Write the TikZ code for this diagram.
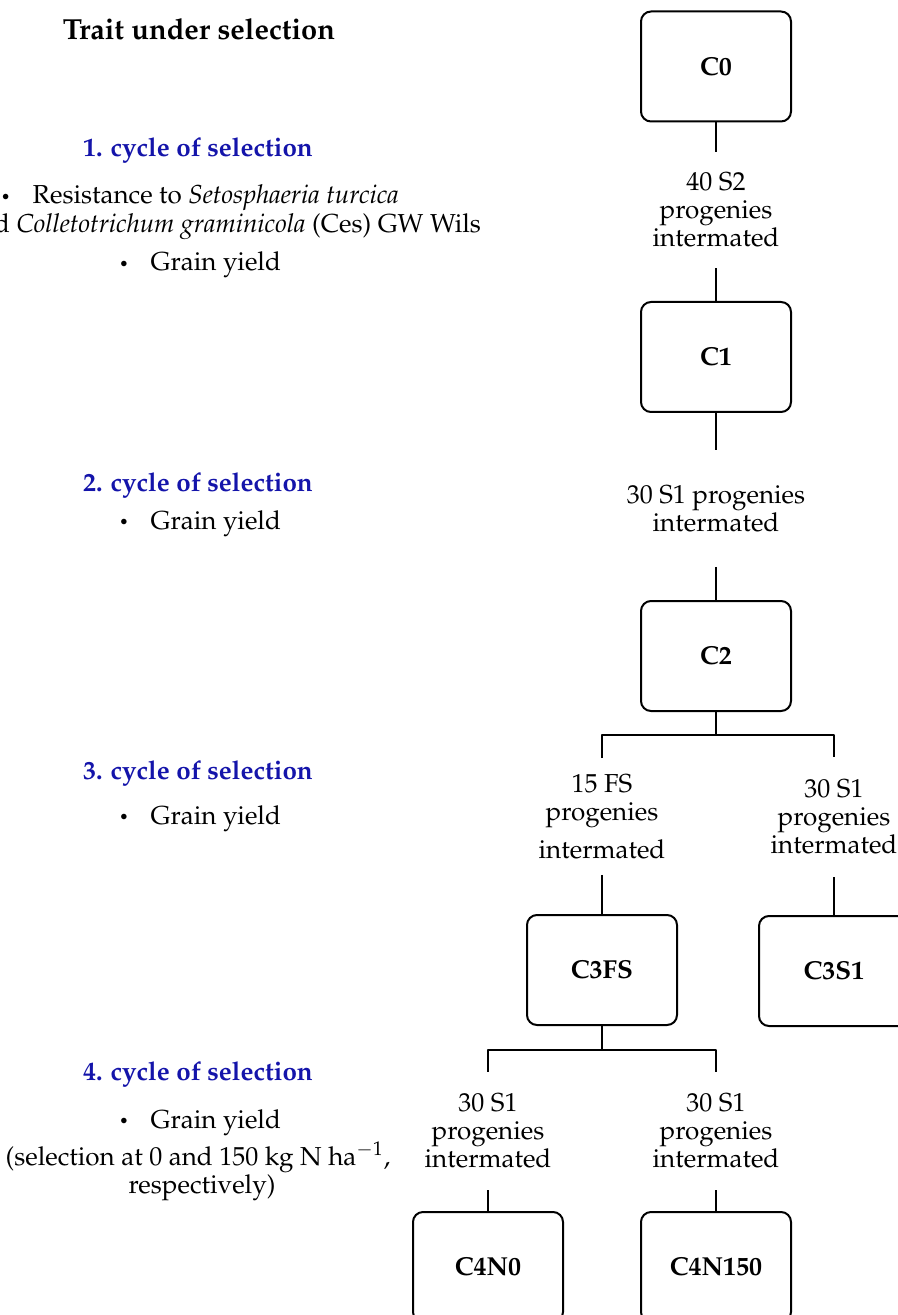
\documentclass[tikz,border=0pt]{standalone}
\usepackage[T1]{fontenc}
\usepackage{mathpazo}
\definecolor{cycblue}{RGB}{20,20,170}
\newcommand{\bul}{\raisebox{.15ex}{\footnotesize\textbullet}\hspace{11pt}}

\begin{document}
\begin{tikzpicture}[x=0.5pt,y=-0.5pt,line width=1pt,line join=round,
    cbox/.style={draw,rounded corners=5pt,minimum width=75pt,minimum height=55pt,
      font=\fontsize{13}{15}\selectfont\bfseries},
    lbl/.style={align=center,inner xsep=0pt,font=\fontsize{13}{14}\selectfont},
    head/.style={anchor=base,inner sep=0pt,text=cycblue,font=\fontsize{13}{15}\selectfont\bfseries},
    trait/.style={anchor=base,inner sep=0pt,font=\fontsize{13}{15}\selectfont}]
  \useasboundingbox (0,0) rectangle (898,1315);
  \def\xm{716} \def\xl{602} \def\xr{834} \def\xb{488}
  % left column: traits
  \node[anchor=base,inner sep=0pt,font=\fontsize{14.5}{16}\selectfont\bfseries] (title) at (199,40) {Trait under selection};
  \node[head] (cyc1) at (198,157) {1. cycle of selection};
  \node[trait] (res1) at (200,204) {\bul Resistance to \textit{Setosphaeria turcica}};
  \node[trait,anchor=base west] (res2) at (-35,233) {and \textit{Colletotrichum graminicola} (Ces) GW Wils};
  \node[trait] (gy1) at (200,271) {\bul Grain yield};
  \node[head] (cyc2) at (198,491) {2. cycle of selection};
  \node[trait] (gy2) at (200,529) {\bul Grain yield};
  \node[head] (cyc3) at (198,779) {3. cycle of selection};
  \node[trait] (gy3) at (200,824) {\bul Grain yield};
  \node[head] (cyc4) at (198,1080) {4. cycle of selection};
  \node[trait] (gy4) at (200,1128) {\bul Grain yield};
  \node[trait] (sel4) at (198,1165) {(selection at 0 and 150 kg N ha$^{-1}$,};
  \node[trait] (resp4) at (202,1193) {respectively)};
  % right column: populations
  \node[cbox] (c0) at (\xm,66.5) {C0};
  \node[lbl,inner ysep=10pt] (l40) at (\xm,210) {40 S2\\progenies\\intermated};
  \node[cbox] (c1) at (\xm,357) {C1};
  \node[lbl,inner ysep=17pt] (l30) at (\xm,508.5) {30 S1 progenies\\intermated};
  \node[cbox] (c2) at (\xm,656) {C2};
  \coordinate (b2) at (\xm,735);
  \node[lbl,inner ysep=7.5pt] (lfs) at (\xl,816.5) {15 FS\\progenies\\[5pt]intermated};
  \node[lbl,inner ysep=11pt] (ls1) at (\xr,817) {30 S1\\progenies\\intermated};
  \node[cbox] (c3fs) at (\xl,970) {C3FS};
  \node[cbox] (c3s1) at (\xr,971) {C3S1};
  \coordinate (b3) at (\xl,1050);
  \node[lbl,inner ysep=10.5pt] (ln0) at (\xb,1131) {30 S1\\progenies\\intermated};
  \node[lbl,inner ysep=10.5pt] (ln150) at (\xm,1131) {30 S1\\progenies\\intermated};
  \node[cbox] (c4n0) at (\xb,1267) {C4N0};
  \node[cbox] (c4n150) at (\xm,1267) {C4N150};
  % connectors
  \draw (c0) -- (l40);
  \draw (l40) -- (c1);
  \draw (c1) -- (l30);
  \draw (l30) -- (c2);
  \draw (c2) -- (b2);
  \draw (lfs.north) |- (b2) -| (ls1.north);
  \draw (lfs) -- (c3fs);
  \draw (ls1) -- (c3s1);
  \draw (c3fs) -- (b3);
  \draw (ln0.north) |- (b3) -| (ln150.north);
  \draw (ln0) -- (c4n0);
  \draw (ln150) -- (c4n150);
\end{tikzpicture}
\end{document}
